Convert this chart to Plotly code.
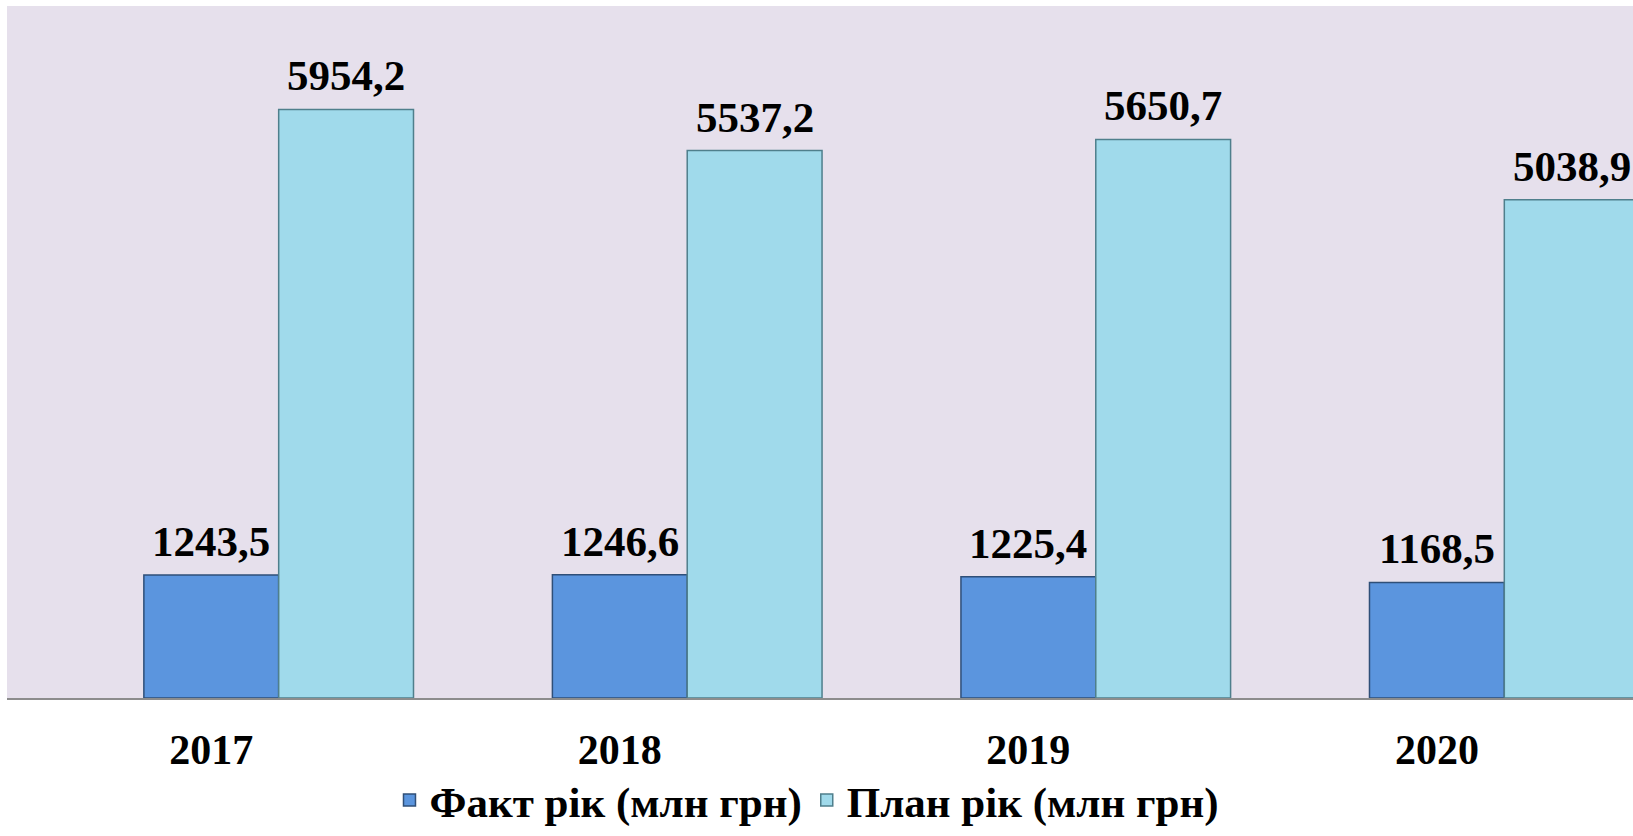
import plotly.graph_objects as go

years = ["2017", "2018", "2019", "2020"]
fact = [1243.5, 1246.6, 1225.4, 1168.5]
plan = [5954.2, 5537.2, 5650.7, 5038.9]
spacer = [None, None, None, None]

FONT = "Liberation Serif, Times New Roman, serif"
BAR_W = 0.33  # width of one bar in category units

fig = go.Figure()
fig.add_trace(go.Bar(x=years, y=spacer, showlegend=False, hoverinfo="skip",
                     marker_color="rgba(0,0,0,0)"))
fig.add_trace(go.Bar(
    x=years, y=fact, name="<b>Факт рік (млн грн)</b>",
    marker=dict(color="#5B95DE", line=dict(color="#2F4F78", width=1.5)),
))
fig.add_trace(go.Bar(
    x=years, y=plan, name="<b>План рік (млн грн)</b>",
    marker=dict(color="#A0DAEB", line=dict(color="#4F7F8C", width=1.5)),
))


def fmt(v):
    return "<b>" + f"{v:.1f}".replace(".", ",") + "</b>"


for i, v in enumerate(fact):
    fig.add_annotation(x=i, y=v, xref="x", yref="y", text=fmt(v),
                       showarrow=False, yanchor="bottom", yshift=8,
                       font=dict(family=FONT, size=43, color="black"))
for i, v in enumerate(plan):
    fig.add_annotation(x=i + BAR_W, y=v, xref="x", yref="y", text=fmt(v),
                       showarrow=False, yanchor="bottom", yshift=8,
                       font=dict(family=FONT, size=43, color="black"))

fig.update_layout(
    width=1633, height=836,
    margin=dict(l=7, r=0, t=6, b=138, autoexpand=False),
    barmode="group", bargap=0.01, bargroupgap=0,
    paper_bgcolor="white", plot_bgcolor="#E6E0EC",
    font=dict(family=FONT, color="black"),
    legend=dict(orientation="h", x=0.492, xanchor="center", y=-0.1975, yanchor="bottom",
                font=dict(family=FONT, size=43, color="black"),
                traceorder="normal"),
)
fig.update_xaxes(type="category", range=[-0.5, 3.48], showline=True, linecolor="#8C8C8C",
                 linewidth=2, showgrid=False, ticks="", ticklabelstandoff=14,
                 tickfont=dict(family=FONT, size=42, color="black"),
                 tickprefix="<b>", ticksuffix="</b>")
fig.update_yaxes(range=[0, 7000], visible=False, showgrid=False)

fig.write_html("out.html", config={"displayModeBar": False},
               post_script="document.body.style.margin='0';document.body.style.overflow='hidden';")
